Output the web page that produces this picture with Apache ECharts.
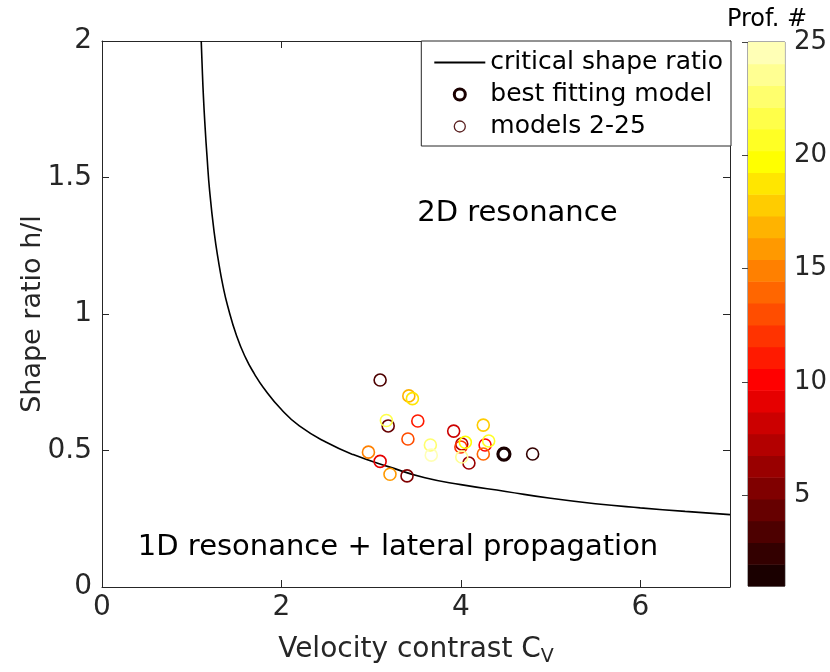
<!DOCTYPE html>
<html>
<head>
<meta charset="utf-8">
<title>Shape ratio vs velocity contrast</title>
<script src="https://cdn.jsdelivr.net/npm/echarts@6/dist/echarts.min.js"></script>
<style>
    html, body { margin: 0; padding: 0; background: #fff; }
    #chart { width: 830px; height: 672px; }
</style>
</head>
<body>
<div id="chart"></div>
<script>
// critical shape ratio curve
var curveCv = [1.106, 1.115, 1.13, 1.15, 1.17, 1.2, 1.25, 1.3, 1.35, 1.4, 1.5, 1.6, 1.7, 1.8, 2.0, 2.2, 2.5, 2.8, 3.2, 3.6, 4.0, 4.5, 5.0, 5.5, 6.0, 6.5, 7.0];
var curveHl = [2.0, 1.92, 1.80, 1.68, 1.58, 1.45, 1.30, 1.19, 1.10, 1.03, 0.92, 0.84, 0.78, 0.73, 0.65, 0.59, 0.53, 0.485, 0.44, 0.40, 0.375, 0.35, 0.325, 0.305, 0.29, 0.277, 0.265];

// best fitting model (profile 1)
var bestCv = [4.48];
var bestHl = [0.487];

// models 2-25
var modelCv   = [4.80, 3.10, 3.19, 3.40, 4.09, 4.01, 3.92, 3.10, 4.27, 3.52, 4.00, 3.41, 4.25, 2.97, 3.21, 3.42, 4.25, 3.46, 4.05, 4.31, 3.17, 3.66, 4.01, 3.67];
var modelHl   = [0.487, 0.758, 0.59, 0.407, 0.454, 0.524, 0.571, 0.46, 0.52, 0.608, 0.513, 0.542, 0.487, 0.494, 0.413, 0.70, 0.593, 0.69, 0.53, 0.535, 0.61, 0.52, 0.476, 0.483];
var modelProf = [2, 3, 4, 5, 6, 7, 8, 9, 10, 11, 12, 13, 14, 15, 16, 17, 18, 19, 20, 21, 22, 23, 24, 25];

// region labels
var regionText = ['2D resonance', '1D resonance + lateral propagation'];
var regionCv = [4.63, 3.3];
var regionHl = [1.37, 0.143];

var xTicks = [0, 2, 4, 6];
var profTicks = [5, 10, 15, 20, 25];

// hot-like colormap, 25 levels for profiles 1..25
var hotColors = ['#1a0000', '#330000', '#4d0000', '#660000', '#800000', '#990000', '#b30000', '#cc0000', '#e60000', '#ff0000',
                 '#ff1a00', '#ff3300', '#ff4d00', '#ff6600', '#ff8000', '#ff9900', '#ffb300', '#ffcc00', '#ffe600', '#ffff00',
                 '#ffff24', '#ffff49', '#ffff6d', '#ffff92', '#ffffb6'];

var font = 'DejaVu Sans';
var axisColor = '#262626';

var chart = echarts.init(document.getElementById('chart'));

var curveData = curveCv.map(function (c, i) { return [c, curveHl[i]]; });
var bestData = bestCv.map(function (c, i) { return [c, bestHl[i]]; });
var modelData = modelCv.map(function (c, i) {
    return { value: [c, modelHl[i]], itemStyle: { borderColor: hotColors[modelProf[i] - 1] } };
});
var regionData = regionCv.map(function (c, i) { return { value: [c, regionHl[i]], name: regionText[i] }; });

// colorbar bands spread over [1, 25]
var bandData = hotColors.map(function (col, i) {
    var step = 24 / hotColors.length;
    return [1 + i * step, 1 + (i + 1) * step, i];
});

var option = {
    animation: false,
    backgroundColor: '#fff',
    textStyle: { fontFamily: font },

    grid: [
        { left: 102, right: 100, top: 41, bottom: 84 },
        { left: 748, right: 45, top: 42, bottom: 86, show: true, borderColor: '#555', borderWidth: 1 }
    ],

    legend: {
        orient: 'vertical',
        right: 99,
        top: 41,
        backgroundColor: '#fff',
        borderColor: axisColor,
        borderWidth: 1,
        borderRadius: 0,
        padding: [9, 8, 7, 12],
        itemGap: 7,
        itemWidth: 51,
        itemHeight: 11,
        itemTextGap: 6,
        textStyle: { fontFamily: font, fontSize: 25, color: '#000' },
        data: [
            { name: 'critical shape ratio', itemStyle: { opacity: 0 } },
            { name: 'best fitting model', icon: 'circle',
              itemStyle: { color: 'rgba(0,0,0,0)', borderColor: '#1a0000', borderWidth: 3 } },
            { name: 'models 2-25', icon: 'circle',
              itemStyle: { color: 'rgba(0,0,0,0)', borderColor: '#5a2020', borderWidth: 1.3 } }
        ]
    },

    xAxis: [
        {
            gridIndex: 0, type: 'value', min: 0, max: 7, position: 'bottom',
            axisLine: { show: true, onZero: false, lineStyle: { color: axisColor, width: 1 } },
            axisTick: { show: true, inside: true, length: 7, customValues: xTicks, lineStyle: { color: axisColor } },
            axisLabel: { customValues: xTicks, fontSize: 28, color: axisColor, margin: 7, fontFamily: font },
            splitLine: { show: false },
            name: 'Velocity contrast C{sub|V}',
            nameLocation: 'middle',
            nameGap: 46,
            nameMoveOverlap: false,
            nameTextStyle: {
                fontSize: 28, color: axisColor, fontFamily: font,
                rich: { sub: { fontSize: 19, color: axisColor, fontFamily: font, padding: [15, 0, 0, 0] } }
            }
        },
        {
            gridIndex: 0, type: 'value', min: 0, max: 7, position: 'top',
            axisLine: { show: true, onZero: false, lineStyle: { color: axisColor, width: 1 } },
            axisTick: { show: true, inside: true, length: 7, customValues: xTicks, lineStyle: { color: axisColor } },
            axisLabel: { show: false },
            splitLine: { show: false }
        },
        { gridIndex: 1, type: 'value', min: 0, max: 1, show: false }
    ],

    yAxis: [
        {
            gridIndex: 0, type: 'value', min: 0, max: 2, interval: 0.5, position: 'left',
            axisLine: { show: true, onZero: false, lineStyle: { color: axisColor, width: 1 } },
            axisTick: { show: true, inside: true, length: 7, lineStyle: { color: axisColor } },
            axisLabel: { fontSize: 28, color: axisColor, margin: 10, fontFamily: font },
            splitLine: { show: false },
            name: 'Shape ratio h/l',
            nameLocation: 'middle',
            nameGap: 56,
            nameMoveOverlap: false,
            nameTextStyle: { fontSize: 27, color: axisColor, fontFamily: font }
        },
        {
            gridIndex: 0, type: 'value', min: 0, max: 2, interval: 0.5, position: 'right',
            axisLine: { show: true, onZero: false, lineStyle: { color: axisColor, width: 1 } },
            axisTick: { show: true, inside: true, length: 7, lineStyle: { color: axisColor } },
            axisLabel: { show: false },
            splitLine: { show: false }
        },
        {
            gridIndex: 1, type: 'value', min: 1, max: 25, position: 'right',
            axisLine: { show: false },
            axisTick: { show: true, inside: true, length: 6, customValues: profTicks, lineStyle: { color: '#444' } },
            axisLabel: { customValues: profTicks, fontSize: 26, color: axisColor, margin: 9, fontFamily: font },
            splitLine: { show: false },
            name: 'Prof. #',
            nameLocation: 'end',
            nameGap: 10,
            nameMoveOverlap: false,
            nameTextStyle: { fontSize: 24, color: '#000', fontFamily: font, align: 'center', padding: [0, 0, 0, 38] }
        }
    ],

    series: [
        {
            name: 'critical shape ratio',
            type: 'line',
            xAxisIndex: 0, yAxisIndex: 0,
            data: curveData,
            symbol: 'none',
            smooth: 0.5,
            clip: true,
            lineStyle: { color: '#000', width: 1.6 },
            itemStyle: { color: '#000' },
            z: 3
        },
        {
            name: 'models 2-25',
            type: 'scatter',
            xAxisIndex: 0, yAxisIndex: 0,
            data: modelData,
            symbol: 'circle',
            symbolSize: 12,
            itemStyle: { color: 'rgba(0,0,0,0)', borderColor: '#5a2020', borderWidth: 1.6, opacity: 1 },
            z: 4
        },
        {
            name: 'best fitting model',
            type: 'scatter',
            xAxisIndex: 0, yAxisIndex: 0,
            data: bestData,
            symbol: 'circle',
            symbolSize: 12,
            itemStyle: { color: 'rgba(0,0,0,0)', borderColor: hotColors[0], borderWidth: 3.2, opacity: 1 },
            z: 5
        },
        {
            name: 'regions',
            type: 'scatter',
            xAxisIndex: 0, yAxisIndex: 0,
            data: regionData,
            symbolSize: 0,
            silent: true,
            itemStyle: { opacity: 1 },
            label: {
                show: true,
                position: 'inside',
                formatter: function (p) { return p.name; },
                fontSize: 29,
                color: '#000',
                fontFamily: font
            },
            z: 3
        },
        {
            name: 'colorbar',
            type: 'custom',
            xAxisIndex: 2, yAxisIndex: 2,
            data: bandData,
            silent: true,
            renderItem: function (params, api) {
                var p0 = api.coord([0, api.value(0)]);
                var p1 = api.coord([1, api.value(1)]);
                return {
                    type: 'rect',
                    shape: { x: p0[0], y: p1[1], width: p1[0] - p0[0], height: p0[1] - p1[1] + 0.5 },
                    style: { fill: hotColors[api.value(2)] }
                };
            }
        }
    ]
};

chart.setOption(option);
</script>
</body>
</html>
